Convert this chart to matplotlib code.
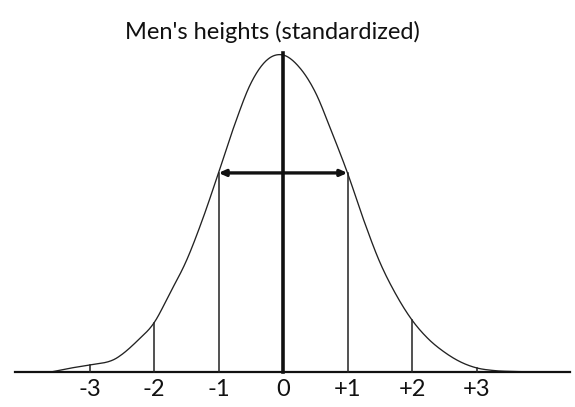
import matplotlib
matplotlib.use("Agg")
import matplotlib.pyplot as plt
import numpy as np

# Curve (z in standard units, relative height, peak = 1)
curve_z = [-3.6, -3.3, -3.0, -2.7, -2.5, -2.25, -2.0, -1.75, -1.5, -1.25, -1.0,
           -0.75, -0.5, -0.25, 0.0, 0.25, 0.5, 0.75, 1.0, 1.25, 1.5, 1.75,
           2.0, 2.25, 2.5, 2.75, 3.0, 3.25, 3.5, 4.0]
curve_h = [0.0, 0.012, 0.022, 0.033, 0.055, 0.10, 0.155, 0.25, 0.35, 0.48, 0.628,
           0.78, 0.91, 0.984, 1.0, 0.962, 0.883, 0.76, 0.628, 0.48, 0.347, 0.245,
           0.164, 0.105, 0.063, 0.032, 0.013, 0.005, 0.002, 0.0]

tick_pos = [-3, -2, -1, 0, 1, 2, 3]
tick_labels = ["-3", "-2", "-1", "0", "+1", "+2", "+3"]
guide_z = [-3, -2, -1, 1, 2, 3]
title = "Men's heights (standardized)"

W, H = 575, 407
fig = plt.figure(figsize=(W / 100, H / 100), dpi=100)
ax = fig.add_axes([0, 0, 1, 1])
x0px, unit_x = 283.0, 64.5
y0px, unit_y = 372.0, 317.0
ax.set_xlim(-x0px / unit_x, (W - x0px) / unit_x)
ax.set_ylim(-(H - y0px) / unit_y, y0px / unit_y)
ax.axis("off")

zz = np.array(curve_z)
hh = np.array(curve_h)

# Catmull-Rom smoothing through the read points
def catmull(xs, ys, n=20):
    px, py = [], []
    X = np.concatenate([[xs[0]], xs, [xs[-1]]])
    Y = np.concatenate([[ys[0]], ys, [ys[-1]]])
    for i in range(1, len(X) - 2):
        t = np.linspace(0, 1, n, endpoint=False)
        for arr, out in ((X, px), (Y, py)):
            p0, p1, p2, p3 = arr[i - 1], arr[i], arr[i + 1], arr[i + 2]
            out.extend(0.5 * ((2 * p1) + (-p0 + p2) * t + (2 * p0 - 5 * p1 + 4 * p2 - p3) * t ** 2
                              + (-p0 + 3 * p1 - 3 * p2 + p3) * t ** 3))
    px.append(xs[-1]); py.append(ys[-1])
    return np.array(px), np.array(py)

cx, cy = catmull(zz, hh)
ax.plot(cx, cy, color="#222222", lw=0.95, solid_capstyle="round")

# baseline axis
ax.plot([(15 - x0px) / unit_x, (570 - x0px) / unit_x], [0, 0], color="#111111", lw=1.6)

# vertical guides to the curve
for z in guide_z:
    h = np.interp(z, cx, cy)
    ax.plot([z, z], [0, h], color="#222222", lw=1.1)
ax.plot([0, 0], [0, 1.005], color="#111111", lw=2.6)

# double arrow at +-1
h1 = np.interp(-1, cx, cy)
ax.annotate("", xy=(-1, h1), xytext=(1, h1),
            arrowprops=dict(arrowstyle="<|-|>,head_length=0.4,head_width=0.18",
                            color="#111111", lw=2.4, shrinkA=0, shrinkB=0))

font = ["Lato", "DejaVu Sans"]
for p, lab in zip(tick_pos, tick_labels):
    ax.text(p, -(389 - y0px) / unit_y, lab, ha="center", va="center",
            fontsize=17, family=font, color="#111111")

ax.text((272 - x0px) / unit_x, (y0px - 39) / unit_y, title, ha="center", va="baseline",
        fontsize=17, family=font, color="#111111")

fig.savefig("out.png", dpi=100, facecolor="white")
